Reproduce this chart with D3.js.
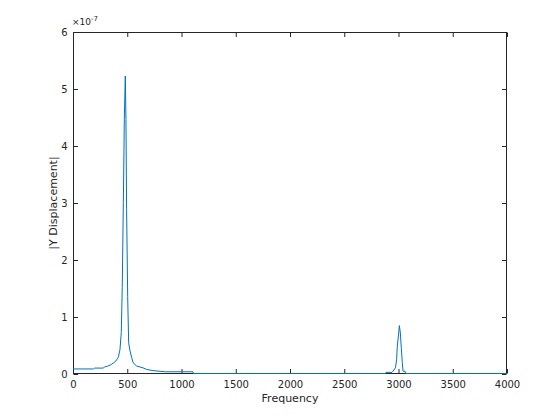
<!DOCTYPE html>
<html>
<head>
<meta charset="utf-8">
<script src="https://cdn.jsdelivr.net/npm/d3@7"></script>
<style>
  html, body { margin: 0; padding: 0; background: #ffffff; }
  svg { display: block; }
  text { font-family: "DejaVu Sans", sans-serif; fill: #262626; }
</style>
</head>
<body>
<svg id="chart" width="560" height="420"></svg>
<script>
// Frequency (Hz)
const frequency = [0, 190, 200, 280, 290, 320, 345, 370, 395, 410, 420, 428, 433, 445, 454, 464, 473, 482, 488, 494, 504, 513, 525, 541, 553, 587, 645, 680, 740, 850, 1106, 1110,
  2880, 2885, 2940, 2949, 2972, 2983, 2989, 3002, 3008, 3017, 3026, 3035, 3042, 3060, 3065, 4000];
// |Y Displacement| in units of 1e-7
const displacement = [0.08, 0.08, 0.095, 0.095, 0.115, 0.13, 0.15, 0.18, 0.22, 0.26, 0.3, 0.38, 0.42, 0.72, 1.51, 3.0, 4.46, 5.22, 4.46, 2.88, 1.35, 0.54, 0.4, 0.28, 0.19, 0.13, 0.1, 0.07, 0.05, 0.03, 0.03, 0,
  0, 0.02, 0.02, 0.04, 0.1, 0.25, 0.48, 0.71, 0.84, 0.71, 0.44, 0.19, 0.04, 0.04, 0, 0];
const xTicks = [0, 500, 1000, 1500, 2000, 2500, 3000, 3500, 4000];
const yTicks = [0, 1, 2, 3, 4, 5, 6];
const xLabel = "Frequency";
const yLabel = "|Y Displacement|";

const svg = d3.select("#chart");
const L = 73, R = 507, T = 32, B = 374;
const axisColor = "#262626";
const tickLen = 4.5;

const x = d3.scaleLinear().domain([0, 4000]).range([L, R]);
const y = d3.scaleLinear().domain([0, 6]).range([B, T]);

const g = svg.append("g");

// Box
g.append("rect").attr("x", L + 0.5).attr("y", T + 0.5).attr("width", R - L - 1).attr("height", B - T - 1)
  .attr("fill", "none").attr("stroke", axisColor).attr("stroke-width", 1);

const fmt = d3.format("d");
// Bottom axis
const xAxis = d3.axisBottom(x).tickValues(xTicks).tickFormat(fmt).tickSizeInner(-tickLen).tickSizeOuter(0);
const xg = g.append("g").attr("transform", `translate(0,${B - 0.5})`).call(xAxis);
// Top axis ticks
const xAxisTop = d3.axisTop(x).tickValues(xTicks).tickSizeInner(-tickLen).tickSizeOuter(0).tickFormat("");
const xgt = g.append("g").attr("transform", `translate(0,${T + 0.5})`).call(xAxisTop);
// Left axis
const yAxis = d3.axisLeft(y).tickValues(yTicks).tickFormat(fmt).tickSizeInner(-tickLen).tickSizeOuter(0);
const yg = g.append("g").attr("transform", `translate(${L + 0.5},0)`).call(yAxis);
// Right axis ticks
const yAxisR = d3.axisRight(y).tickValues(yTicks).tickSizeInner(-tickLen).tickSizeOuter(0).tickFormat("");
const ygr = g.append("g").attr("transform", `translate(${R - 0.5},0)`).call(yAxisR);

[xg, xgt, yg, ygr].forEach(a => {
  a.select(".domain").remove();
  a.selectAll("line").attr("stroke", axisColor);
  a.selectAll("text").attr("fill", axisColor).style("font-family", '"DejaVu Sans", sans-serif').style("font-size", "10px");
});
xg.selectAll("text").attr("dy", "0.71em").attr("y", 7);
yg.selectAll("text").attr("x", -6);

// Exponent label
const expo = g.append("text").attr("x", L - 1).attr("y", 25).style("font-size", "9px");
expo.append("tspan").text("×10");
expo.append("tspan").attr("dy", -4).style("font-size", "7px").text("-7");

// Axis labels
g.append("text").attr("x", (L + R) / 2).attr("y", 402).attr("text-anchor", "middle")
  .style("font-size", "11px").text(xLabel);
g.append("text").attr("transform", `translate(57,${(T + B) / 2}) rotate(-90)`).attr("text-anchor", "middle")
  .style("font-size", "11px").text(yLabel);

// Data line
const data = frequency.map((f, i) => ({ f, v: displacement[i] }));
const line = d3.line().x(d => x(d.f)).y(d => y(d.v) - 0.5);
g.append("path").datum(data).attr("d", line)
  .attr("fill", "none").attr("stroke", "#0072BD").attr("stroke-width", 1);
</script>
</body>
</html>
